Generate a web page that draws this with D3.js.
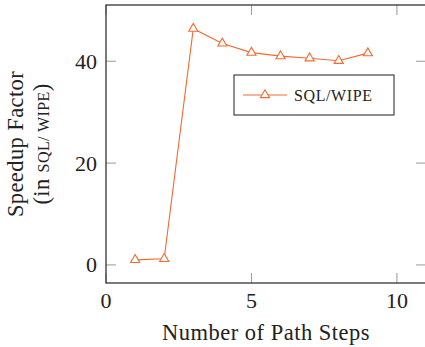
<!DOCTYPE html>
<html>
<head>
<meta charset="utf-8">
<script src="https://cdn.jsdelivr.net/npm/d3@7"></script>
<style>
  body { margin: 0; background: #fff; }
  svg { display: block; font-family: "Liberation Serif", serif; }
</style>
</head>
<body>
<div id="chart"></div>
<script>
const steps = [1, 2, 3, 4, 5, 6, 7, 8, 9];
const speedup = [1.0, 1.2, 46.4, 43.5, 41.7, 41.0, 40.6, 40.1, 41.6];
const xTicks = [0, 5, 10];
const yTicks = [0, 20, 40];
const seriesName = "SQL/WIPE";

const width = 425, height = 347;
const color = "#f26a30";

// plot box (right edge falls just outside the window)
const box = { left: 106, right: 426, top: 5, bottom: 283 };

const x = d3.scaleLinear().domain([0, 11]).range([box.left, box.right]);
const y = d3.scaleLinear().domain([-3.55, 51.05]).range([box.bottom, box.top]);

const svg = d3.select("#chart")
  .append("svg")
  .attr("width", width)
  .attr("height", height);

const tickLen = 10;
const ticks = svg.append("g").attr("stroke", "#999").attr("stroke-width", 1);

// inward ticks on all four sides
xTicks.forEach((t) => {
  ticks.append("line").attr("x1", x(t)).attr("x2", x(t))
    .attr("y1", box.bottom).attr("y2", box.bottom - tickLen);
  ticks.append("line").attr("x1", x(t)).attr("x2", x(t))
    .attr("y1", box.top).attr("y2", box.top + tickLen);
});
yTicks.forEach((t) => {
  ticks.append("line").attr("x1", box.left).attr("x2", box.left + tickLen)
    .attr("y1", y(t)).attr("y2", y(t));
  ticks.append("line").attr("x1", box.right).attr("x2", box.right - tickLen)
    .attr("y1", y(t)).attr("y2", y(t));
});

svg.append("rect")
  .attr("x", box.left).attr("y", box.top)
  .attr("width", box.right - box.left).attr("height", box.bottom - box.top)
  .attr("fill", "none").attr("stroke", "#333").attr("stroke-width", 1.3);

// tick labels
svg.append("g").selectAll("text").data(xTicks).join("text")
  .attr("x", (d) => x(d)).attr("y", 308)
  .attr("text-anchor", "middle").attr("font-size", 22).attr("fill", "#222")
  .text((d) => d);

svg.append("g").selectAll("text").data(yTicks).join("text")
  .attr("x", 97).attr("y", (d) => y(d) + 7.5)
  .attr("text-anchor", "end").attr("font-size", 22).attr("fill", "#222")
  .text((d) => d);

// axis labels
svg.append("text")
  .attr("x", (box.left + 424) / 2 + 1).attr("y", 340)
  .attr("text-anchor", "middle").attr("font-size", 22.5).attr("fill", "#222")
  .attr("letter-spacing", 0.5)
  .text("Number of Path Steps");

const yLab = svg.append("g")
  .attr("transform", `translate(0, ${(box.top + box.bottom) / 2}) rotate(-90)`)
  .attr("fill", "#222").attr("text-anchor", "middle");
yLab.append("text").attr("x", 0).attr("y", 23).attr("font-size", 22.5)
  .attr("letter-spacing", 0.4)
  .text("Speedup Factor");
const l2 = yLab.append("text").attr("x", 0).attr("y", 49).attr("font-size", 22.5)
  .attr("letter-spacing", 0.4);
l2.append("tspan").text("(in ");
l2.append("tspan").attr("font-size", 16).text("SQL/ WIPE");
l2.append("tspan").text(")");

// series
const line = d3.line().x((d, i) => x(steps[i])).y((d) => y(d));
svg.append("path")
  .datum(speedup)
  .attr("d", line)
  .attr("fill", "none").attr("stroke", color).attr("stroke-width", 1.1);

const tri = d3.symbol(d3.symbolTriangle, 36);
svg.append("g").selectAll("path").data(speedup).join("path")
  .attr("transform", (d, i) => `translate(${x(steps[i])},${y(d)})`)
  .attr("d", tri)
  .attr("fill", "#fff").attr("stroke", color).attr("stroke-width", 1.1);

// legend
const leg = svg.append("g");
leg.append("rect")
  .attr("x", 234).attr("y", 75).attr("width", 160).attr("height", 40)
  .attr("fill", "#fff").attr("stroke", "#444").attr("stroke-width", 1.2);
leg.append("line")
  .attr("x1", 243).attr("x2", 287).attr("y1", 95).attr("y2", 95)
  .attr("stroke", color).attr("stroke-width", 1.1);
leg.append("path")
  .attr("transform", "translate(265,95)")
  .attr("d", tri)
  .attr("fill", "#fff").attr("stroke", color).attr("stroke-width", 1.1);
leg.append("text")
  .attr("x", 294).attr("y", 100.5).attr("font-size", 16).attr("fill", "#222")
  .attr("letter-spacing", 0.6)
  .text(seriesName);
</script>
</body>
</html>
